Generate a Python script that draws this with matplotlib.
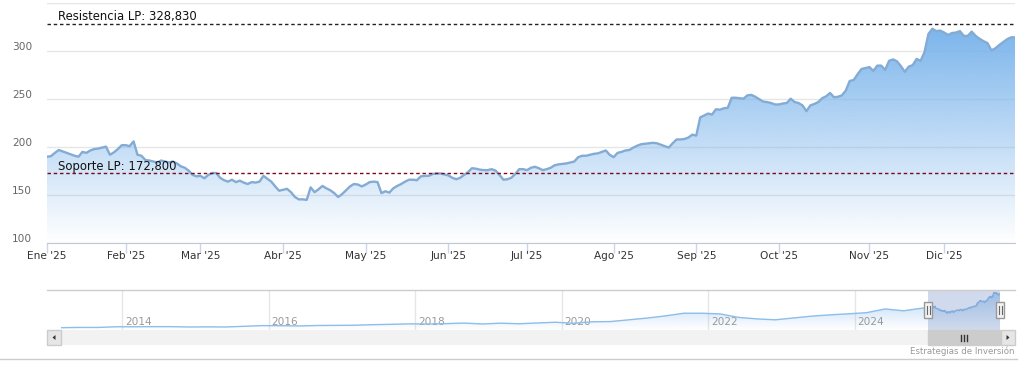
import numpy as np
import pandas as pd
import matplotlib
matplotlib.use("Agg")
import matplotlib.pyplot as plt
import matplotlib.dates as mdates
from matplotlib.patches import Rectangle, PathPatch, Polygon
from matplotlib.lines import Line2D
from matplotlib.transforms import ScaledTranslation

# cierres diarios 2025, mes a mes
ene = [190, 190.5, 194, 197, 195.5, 194, 192.5, 191, 190, 195, 194, 196.5, 198, 198.5, 199.5, 200.5, 192, 194.5, 198, 202]
feb = [202, 201, 206, 192, 191, 186.5, 186, 185, 184, 186, 185, 184, 185, 183, 180, 178.5, 175.5, 171, 169.5]
mar = [170, 167.5, 171, 173, 173, 168, 165.5, 164, 166, 163.5, 165, 163, 161.5, 163.5, 163, 164, 170, 167, 164, 159, 154.5]
abr = [155.5, 156.5, 153, 148, 145.5, 145.5, 145, 158, 153, 156, 159.5, 157, 155, 152, 148, 151, 155, 159, 161.5, 161, 159]
may = [161, 163.5, 164, 163.5, 152, 154, 152.5, 157, 159.5, 161.5, 164, 166, 166, 165.5, 169.5, 170, 170, 172, 172.5, 172.5, 171.5]
jun = [170.5, 168, 166.5, 168, 171, 174, 178, 177.5, 176.5, 176, 176, 177, 175.5, 171, 166, 166.5, 168, 172, 177, 177]
jul = [176, 178.5, 179.5, 178, 176, 177, 178.5, 181, 182, 182.5, 183, 184, 185, 189.5, 191, 191, 192, 193, 193.5, 195, 196.5, 192]
ago = [189.5, 194, 195, 196.5, 197, 199.5, 201.5, 203, 203.5, 204, 204.5, 204, 202.5, 201, 199.5, 204, 208, 208, 208.5, 210, 213]
sep = [212, 231, 233, 235, 234, 239.5, 239, 240.5, 241, 251.5, 251.5, 251, 250.5, 254, 254.5, 252.5, 250, 247.5, 247, 246, 244.5]
oct_ = [244.5, 245.5, 246, 250.5, 247, 246, 243.5, 237.5, 243.5, 245, 247, 251, 253, 256.5, 252, 252.5, 254, 259, 269, 270, 276, 281.5, 282.5]
nov = [283.5, 279.5, 285, 285, 280.5, 290, 291.5, 289.5, 284.5, 278.5, 284, 285.5, 292, 290, 299, 318, 323.5, 321, 321.5]
dic = [319.5, 317, 319, 319.5, 321, 316, 316, 320.5, 316, 313, 310.5, 308.5, 301, 303, 306.5, 309.5, 312.5, 314.5, 314.5]
precios = ene + feb + mar + abr + may + jun + jul + ago + sep + oct_ + nov + dic

# dias sin sesion en 2025
festivos = ["2025-01-09", "2025-01-20", "2025-02-17", "2025-04-18", "2025-05-26",
            "2025-06-19", "2025-07-04", "2025-09-01", "2025-11-27", "2025-12-25"]
meses = ["Ene", "Feb", "Mar", "Abr", "May", "Jun", "Jul", "Ago", "Sep", "Oct", "Nov", "Dic"]

resistencia = 328.83
soporte = 172.80

# navegador: valores trimestrales 2013-2024 (aprox.)
nav_hist = [20, 22, 22, 28, 28, 29, 29, 26, 27, 26, 32, 38,
            37, 35, 39, 40, 41, 46, 49, 53, 52, 55, 60, 52,
            59, 54, 61, 67, 58, 71, 73, 88, 103, 122, 145, 145,
            139, 109, 96, 88, 104, 120, 131, 140, 150, 182, 166, 189]
nav_years = [2014, 2016, 2018, 2020, 2022, 2024]

fechas = pd.bdate_range("2025-01-02", "2025-12-26", freq="C", holidays=festivos)
fechas_hist = pd.date_range("2013-03-01", periods=len(nav_hist), freq="QS-MAR")

W, H = 1025, 368
def fx(px):
    return px / W
def fy(py):
    return 1 - py / H

def gradiente(color, a_top, n=256):
    g = np.zeros((n, 1, 4))
    g[..., :3] = color
    g[:, 0, 3] = np.linspace(0, a_top, n)
    return g

def relleno(ax, x, y, base, color, a_top):
    poly = ax.fill_between(x, y, base, facecolor="none", edgecolor="none")
    img = ax.imshow(gradiente(color, a_top), extent=[x[0], x[-1], base, max(y)],
                    aspect="auto", origin="lower", zorder=1)
    patch = PathPatch(poly.get_paths()[0], transform=ax.transData,
                      facecolor="none", edgecolor="none")
    ax.add_patch(patch)
    img.set_clip_path(patch)

plt.rcParams["font.family"] = ["DejaVu Sans"]
fig = plt.figure(figsize=(10.25, 3.68), dpi=100)
fig.patch.set_facecolor("white")

azul = np.array([124, 181, 236]) / 255

# grafico principal
ax = fig.add_axes([fx(47), fy(243), fx(1015) - fx(47), fy(3.3) - fy(243)])
x = np.arange(len(precios))
relleno(ax, x, precios, 100, azul, 1.0)
ax.plot(x, precios, color="#84abd4", lw=1.7, zorder=3, solid_joinstyle="round")
ax.set_xlim(0, len(precios) - 1)
ax.set_ylim(100, 350)

ax.axhline(resistencia, color="#222222", lw=1, ls=(0, (2.5, 2)), zorder=4)
ax.axhline(soporte, color="#7a0a1e", lw=1, ls=(0, (2.5, 2)), zorder=4)
ax.annotate("Resistencia LP: 328,830", xy=(0, resistencia), xycoords=("axes fraction", "data"),
            xytext=(10.5, 3.5), textcoords="offset pixels", fontsize=8.4, va="baseline", color="#111")
ax.annotate("Soporte LP: 172,800", xy=(0, soporte), xycoords=("axes fraction", "data"),
            xytext=(10.5, 3), textcoords="offset pixels", fontsize=8.4, va="baseline", color="#111", zorder=5)

ax.set_yticks([100, 150, 200, 250, 300, 350])
ax.set_yticklabels(["100", "150", "200", "250", "300", ""])
ax.yaxis.grid(True, color="#e6e6e6", lw=1)
ax.set_axisbelow(True)
ax.tick_params(axis="y", length=0, pad=10.8, labelsize=7.6, labelcolor="#666666")
off = ScaledTranslation(0, 5.5 / 100, fig.dpi_scale_trans)
for lab in ax.get_yticklabels():
    lab.set_transform(lab.get_transform() + off)

inicio_mes = np.r_[0, np.flatnonzero(np.diff(fechas.month)) + 1]
ax.set_xticks(inicio_mes)
ax.set_xticklabels([f"{m} '25" for m in meses])
ax.tick_params(axis="x", length=7.2, width=1, color="#ccd6eb", pad=-1.5,
               labelsize=7.6, labelcolor="#333333")
for s in ["top", "left", "right"]:
    ax.spines[s].set_visible(False)
ax.spines["bottom"].set_color("#c0c8d8")

# navegador
axn = fig.add_axes([fx(61), fy(330), fx(1000) - fx(61), fy(290) - fy(330)])
nx = np.r_[mdates.date2num(fechas_hist), mdates.date2num(fechas)]
ny = np.r_[nav_hist, precios]
relleno(axn, nx, ny, 0, azul, 0.55)
axn.plot(nx, ny, color="#8dbde9", lw=1, zorder=3)
axn.set_xlim(nx[0], nx[-1])
axn.set_ylim(0, 346)
axn.axis("off")
for yr in nav_years:
    xv = mdates.date2num(pd.Timestamp(f"{yr}-01-01"))
    axn.axvline(xv, color="#e6e6e6", lw=1, zorder=0)
    axn.annotate(str(yr), xy=(xv, 0.2), xycoords=("data", "axes fraction"),
                 xytext=(3, 0), textcoords="offset pixels", fontsize=7.6,
                 color="#999999", va="center", zorder=2)

x0 = mdates.date2num(fechas[0])
x1 = mdates.date2num(fechas[-1])
axn.axvspan(x0, x1, color=(102 / 255, 133 / 255, 194 / 255), alpha=0.3, lw=0, zorder=4)
px0 = axn.transData.transform((x0, 0))[0]
px1 = axn.transData.transform((x1, 0))[0]

# contorno, barra de desplazamiento y tiradores
fig.add_artist(Line2D([fx(47), fx(1015)], [fy(290), fy(290)], color="#cccccc", lw=1))
fig.add_artist(Rectangle((fx(47), fy(345)), 968 / W, 15 / H, transform=fig.transFigure,
                         fc="#f2f2f2", ec="none"))
fig.add_artist(Rectangle((fx(px0), fy(345)), (px1 - px0) / W, 15 / H, transform=fig.transFigure,
                         fc="#cccccc", ec="#cccccc", lw=1))
for bx in [46.5, 1000.5]:
    fig.add_artist(Rectangle((fx(bx), fy(345)), 14.5 / W, 15 / H, transform=fig.transFigure,
                             fc="#e6e6e6", ec="#cccccc", lw=1))
fig.add_artist(Polygon([(fx(52.5), fy(337.5)), (fx(55.5), fy(335)), (fx(55.5), fy(340))],
                       closed=True, transform=fig.transFigure, fc="#333333", ec="none"))
fig.add_artist(Polygon([(fx(1009.5), fy(337.5)), (fx(1006.5), fy(335)), (fx(1006.5), fy(340))],
                       closed=True, transform=fig.transFigure, fc="#333333", ec="none"))
cx = (px0 + px1) / 2
for d in [-3, 0, 3]:
    fig.add_artist(Line2D([fx(cx + d), fx(cx + d)], [fy(334.5), fy(340.5)], color="#333333", lw=1))
for hp in [px0, px1]:
    fig.add_artist(Rectangle((fx(hp - 4), fy(318)), 8 / W, 16 / H, transform=fig.transFigure,
                             fc="#f2f2f2", ec="#999999", lw=1, zorder=5))
    for d in [-1.5, 1.5]:
        fig.add_artist(Line2D([fx(hp + d), fx(hp + d)], [fy(306), fy(314)], color="#666666",
                              lw=0.8, zorder=6))

fig.add_artist(Line2D([0, fx(1017)], [fy(359), fy(359)], color="#cccccc", lw=1))
fig.text(fx(1015), fy(351), "Estrategias de Inversión", ha="right", va="center",
         fontsize=6.2, color="#999999")

fig.savefig("out.png", dpi=100)
